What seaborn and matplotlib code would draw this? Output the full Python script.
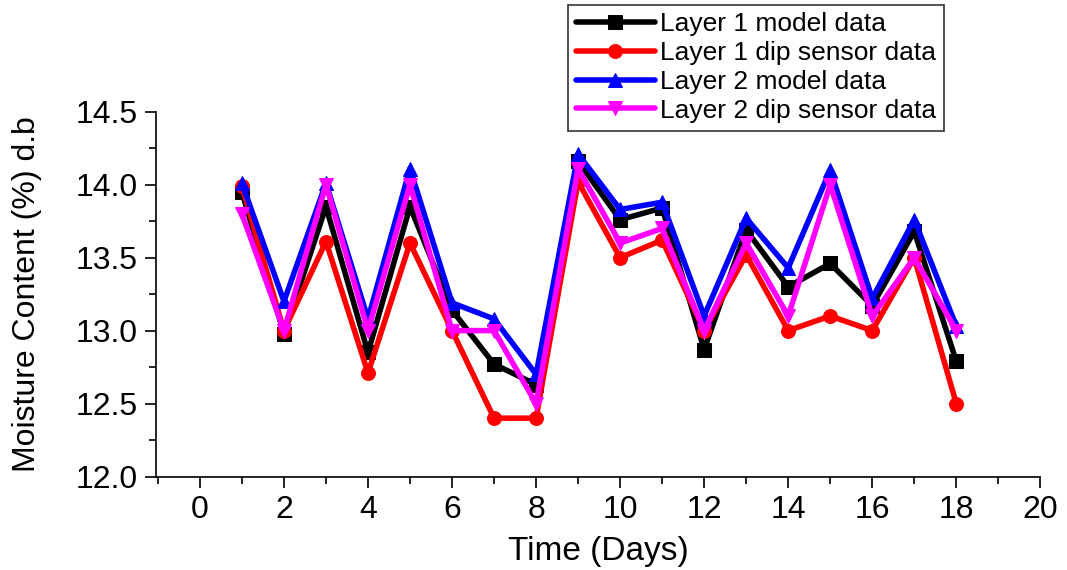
import matplotlib
matplotlib.use('Agg')
import matplotlib.pyplot as plt
import seaborn as sns
import numpy as np
from matplotlib.ticker import MultipleLocator

# Datos
dias = list(range(1, 19))
capa1_modelo = [13.95, 12.98, 13.85, 12.85, 13.85, 13.14, 12.77, 12.63, 14.16, 13.76,
                13.84, 12.87, 13.69, 13.30, 13.46, 13.17, 13.68, 12.79]
capa1_sensor = [13.99, 13.0, 13.61, 12.71, 13.6, 13.0, 12.4, 12.4, 14.02, 13.5,
                13.62, 13.0, 13.52, 13.0, 13.1, 13.0, 13.5, 12.5]
capa2_modelo = [14.01, 13.2, 14.01, 13.08, 14.11, 13.19, 13.08, 12.7, 14.21, 13.83,
                13.88, 13.1, 13.77, 13.43, 14.1, 13.22, 13.76, 13.03]
capa2_sensor = [13.8, 13.0, 14.0, 13.0, 14.0, 13.0, 13.0, 12.5, 14.11, 13.6,
                13.7, 13.0, 13.6, 13.1, 14.0, 13.1, 13.5, 13.0]

etiquetas = ['Layer 1 model data', 'Layer 1 dip sensor data',
             'Layer 2 model data', 'Layer 2 dip sensor data']
series = [capa1_modelo, capa1_sensor, capa2_modelo, capa2_sensor]
colores = ['#000000', '#ff0000', '#0000ff', '#ff00ff']
marcadores = ['s', 'o', '^', 'v']

sns.set_theme(style="ticks")
plt.rcParams['font.family'] = ['Liberation Sans', 'DejaVu Sans']
plt.rcParams['text.color'] = 'black'
plt.rcParams['axes.labelcolor'] = 'black'
plt.rcParams['xtick.color'] = 'black'
plt.rcParams['ytick.color'] = 'black'

fig = plt.figure(figsize=(10.67, 5.70), dpi=100)
ax = fig.add_axes([0.146, 0.164, 0.829, 0.640])

for vals, lab, col, mk in zip(series, etiquetas, colores, marcadores):
    sns.lineplot(x=dias, y=vals, ax=ax, color=col, marker=mk, markersize=10,
                 markeredgecolor=col, linewidth=4, label=lab)

ax.set_xlim(-1.05, 20)
ax.set_ylim(12.0, 14.5)
ax.xaxis.set_major_locator(MultipleLocator(2))
ax.xaxis.set_minor_locator(MultipleLocator(1))
ax.yaxis.set_major_locator(MultipleLocator(0.5))
ax.yaxis.set_minor_locator(MultipleLocator(0.25))
ax.yaxis.set_major_formatter(matplotlib.ticker.FormatStrFormatter('%.1f'))

ax.tick_params(which='major', direction='out', length=8, width=1.2, labelsize=23, pad=5)
ax.tick_params(which='minor', direction='out', length=5, width=1.2)
for lado in ['top', 'right']:
    ax.spines[lado].set_visible(False)
for lado in ['left', 'bottom']:
    ax.spines[lado].set_linewidth(1.2)
    ax.spines[lado].set_color('black')

ax.set_xlabel('Time (Days)', fontsize=24, labelpad=8)
ax.set_ylabel('Moisture Content (%) d.b', fontsize=23, labelpad=24)

leg = ax.legend(loc='upper left', bbox_to_anchor=(0.532, 0.992), bbox_transform=fig.transFigure,
                fontsize=19, frameon=True, fancybox=False, borderpad=0.3,
                labelspacing=0.18, handlelength=3.0, handletextpad=0.2, borderaxespad=0)
leg.get_frame().set_edgecolor('black')
leg.get_frame().set_linewidth(1.2)

plt.savefig('out.png', dpi=100)
plt.close()
